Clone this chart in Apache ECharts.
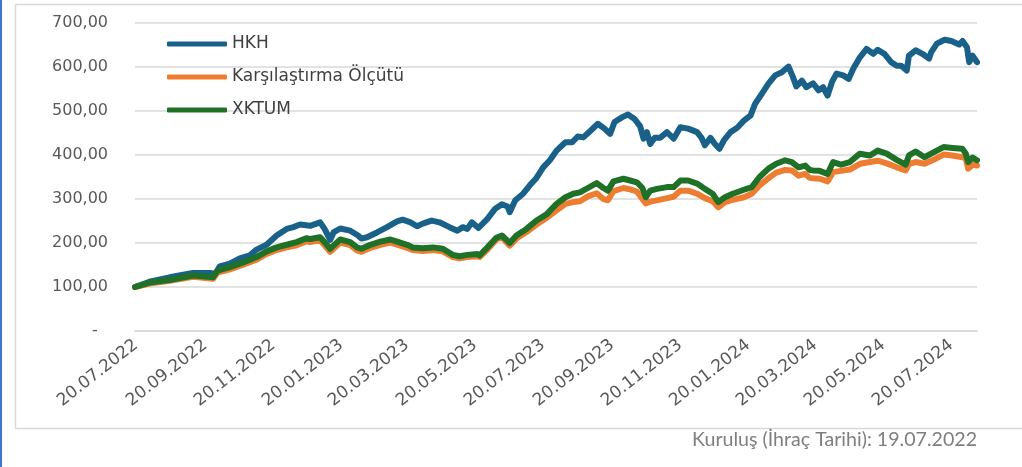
<!DOCTYPE html>
<html>
<head>
<meta charset="utf-8">
<script src="https://cdn.jsdelivr.net/npm/echarts@6/dist/echarts.min.js"></script>
<style>
  html, body { margin: 0; padding: 0; background: #fff; }
  #chart { width: 1022px; height: 467px; }
</style>
</head>
<body>
<div id="chart"></div>
<script>
// tick dates shown under the x axis
const tickLabels = ['20.07.2022', '20.09.2022', '20.11.2022', '20.01.2023', '20.03.2023', '20.05.2023',
  '20.07.2023', '20.09.2023', '20.11.2023', '20.01.2024', '20.03.2024', '20.05.2024', '20.07.2024']

const seriesNames = ['HKH', 'Karşılaştırma Ölçütü', 'XKTUM']

const hkh = [
  ['2022-07-19', 100], ['2022-08-01', 112], ['2022-08-19', 122], ['2022-09-09', 132], ['2022-09-24', 132],
  ['2022-09-29', 130], ['2022-10-03', 147], ['2022-10-12', 153], ['2022-10-21', 165], ['2022-10-30', 172],
  ['2022-11-05', 185], ['2022-11-14', 196], ['2022-11-23', 217], ['2022-12-02', 232], ['2022-12-08', 236],
  ['2022-12-14', 242], ['2022-12-23', 239], ['2023-01-01', 247], ['2023-01-05', 232], ['2023-01-10', 207],
  ['2023-01-13', 224], ['2023-01-19', 233], ['2023-01-28', 228], ['2023-02-04', 217], ['2023-02-07', 210],
  ['2023-02-12', 213], ['2023-02-21', 224], ['2023-03-02', 236], ['2023-03-11', 249], ['2023-03-16', 253],
  ['2023-03-23', 247], ['2023-03-29', 238], ['2023-04-03', 244], ['2023-04-11', 251], ['2023-04-18', 247],
  ['2023-04-27', 236], ['2023-05-04', 228], ['2023-05-09', 236], ['2023-05-13', 232], ['2023-05-17', 247],
  ['2023-05-23', 234], ['2023-05-31', 255], ['2023-06-07', 278], ['2023-06-13', 288], ['2023-06-18', 283],
  ['2023-06-20', 270], ['2023-06-25', 297], ['2023-07-02', 312], ['2023-07-08', 331], ['2023-07-14', 348],
  ['2023-07-20', 372], ['2023-07-26', 388], ['2023-08-01', 410], ['2023-08-09', 429], ['2023-08-15', 429],
  ['2023-08-20', 442], ['2023-08-25', 440], ['2023-08-31', 454], ['2023-09-07', 471], ['2023-09-13', 460],
  ['2023-09-18', 448], ['2023-09-22', 475], ['2023-09-29', 486], ['2023-10-04', 492], ['2023-10-10', 482],
  ['2023-10-15', 465], ['2023-10-18', 437], ['2023-10-21', 452], ['2023-10-24', 425], ['2023-10-28', 439],
  ['2023-11-02', 439], ['2023-11-08', 452], ['2023-11-14', 437], ['2023-11-20', 463], ['2023-11-27', 460],
  ['2023-12-05', 452], ['2023-12-09', 439], ['2023-12-12', 422], ['2023-12-17', 439], ['2023-12-21', 425],
  ['2023-12-25', 414], ['2023-12-29', 433], ['2024-01-04', 452], ['2024-01-10', 462], ['2024-01-16', 478],
  ['2024-01-22', 490], ['2024-01-26', 516], ['2024-02-01', 539], ['2024-02-07', 562], ['2024-02-13', 581],
  ['2024-02-19', 588], ['2024-02-25', 601], ['2024-02-29', 577], ['2024-03-03', 556], ['2024-03-08', 569],
  ['2024-03-12', 554], ['2024-03-18', 563], ['2024-03-23', 547], ['2024-03-27', 554], ['2024-03-31', 535],
  ['2024-04-04', 566], ['2024-04-08', 585], ['2024-04-14', 581], ['2024-04-19', 573], ['2024-04-23', 596],
  ['2024-04-29', 622], ['2024-05-05', 641], ['2024-05-11', 630], ['2024-05-15', 639], ['2024-05-21', 630],
  ['2024-05-27', 611], ['2024-06-01', 603], ['2024-06-05', 603], ['2024-06-10', 592], ['2024-06-12', 626],
  ['2024-06-18', 638], ['2024-06-24', 630], ['2024-06-30', 619], ['2024-07-02', 634], ['2024-07-07', 653],
  ['2024-07-14', 662], ['2024-07-20', 659], ['2024-07-27', 651], ['2024-07-30', 659], ['2024-08-03', 645],
  ['2024-08-05', 611], ['2024-08-08', 626], ['2024-08-12', 611]
]

const benchmark = [
  ['2022-07-19', 100], ['2022-08-01', 108], ['2022-08-19', 114], ['2022-09-09', 123], ['2022-09-27', 119],
  ['2022-10-01', 133], ['2022-10-12', 140], ['2022-10-24', 151], ['2022-11-05', 162], ['2022-11-14', 175],
  ['2022-11-23', 184], ['2022-12-02', 190], ['2022-12-11', 195], ['2022-12-20', 204], ['2022-12-23', 202],
  ['2023-01-01', 206], ['2023-01-05', 195], ['2023-01-10', 180], ['2023-01-13', 187], ['2023-01-19', 201],
  ['2023-01-28', 195], ['2023-02-03', 183], ['2023-02-07', 180], ['2023-02-15', 189], ['2023-02-24', 196],
  ['2023-03-05', 201], ['2023-03-11', 196], ['2023-03-20', 189], ['2023-03-25', 184], ['2023-04-03', 182],
  ['2023-04-12', 184], ['2023-04-21', 181], ['2023-04-30', 168], ['2023-05-06', 165], ['2023-05-13', 168],
  ['2023-05-22', 170], ['2023-05-24', 168], ['2023-05-31', 185], ['2023-06-08', 208], ['2023-06-13', 213],
  ['2023-06-20', 194], ['2023-06-26', 210], ['2023-07-05', 225], ['2023-07-14', 242], ['2023-07-23', 257],
  ['2023-08-01', 274], ['2023-08-09', 289], ['2023-08-16', 293], ['2023-08-22', 295], ['2023-08-29', 306],
  ['2023-09-06', 313], ['2023-09-12', 300], ['2023-09-16', 297], ['2023-09-21', 318], ['2023-09-30', 325],
  ['2023-10-06', 322], ['2023-10-12', 317], ['2023-10-17', 300], ['2023-10-20', 290], ['2023-10-24', 294],
  ['2023-10-30', 297], ['2023-11-08', 302], ['2023-11-14', 305], ['2023-11-20', 319], ['2023-11-27', 319],
  ['2023-12-05', 312], ['2023-12-12', 302], ['2023-12-19', 295], ['2023-12-24', 281], ['2023-12-30', 293],
  ['2024-01-06', 298], ['2024-01-16', 304], ['2024-01-23', 312], ['2024-01-30', 331], ['2024-02-08', 349],
  ['2024-02-14', 360], ['2024-02-22', 366], ['2024-02-28', 365], ['2024-03-05', 353], ['2024-03-11', 357],
  ['2024-03-15', 348], ['2024-03-18', 347], ['2024-03-24', 346], ['2024-03-31', 340], ['2024-04-05', 361],
  ['2024-04-12', 364], ['2024-04-20', 367], ['2024-04-29', 380], ['2024-05-08', 384], ['2024-05-15', 387],
  ['2024-05-23', 381], ['2024-06-01', 372], ['2024-06-09', 365], ['2024-06-12', 380], ['2024-06-18', 384],
  ['2024-06-26', 380], ['2024-07-04', 389], ['2024-07-13', 401], ['2024-07-21', 399], ['2024-07-30', 395],
  ['2024-08-02', 392], ['2024-08-04', 369], ['2024-08-08', 378], ['2024-08-12', 376]
]

const xktum = [
  ['2022-07-19', 100], ['2022-08-01', 110], ['2022-08-19', 116], ['2022-09-09', 126], ['2022-09-27', 122],
  ['2022-10-01', 137], ['2022-10-12', 145], ['2022-10-24', 156], ['2022-11-05', 168], ['2022-11-14', 181],
  ['2022-11-23', 190], ['2022-12-02', 196], ['2022-12-11', 202], ['2022-12-20', 211], ['2022-12-23', 209],
  ['2023-01-01', 213], ['2023-01-05', 202], ['2023-01-10', 187], ['2023-01-13', 194], ['2023-01-19', 208],
  ['2023-01-28', 202], ['2023-02-03', 190], ['2023-02-07', 187], ['2023-02-15', 196], ['2023-02-24', 203],
  ['2023-03-05', 208], ['2023-03-11', 203], ['2023-03-20', 196], ['2023-03-25', 190], ['2023-04-03', 188],
  ['2023-04-12', 190], ['2023-04-21', 187], ['2023-04-30', 173], ['2023-05-06', 170], ['2023-05-13', 173],
  ['2023-05-22', 175], ['2023-05-24', 172], ['2023-05-31', 190], ['2023-06-08', 212], ['2023-06-13', 217],
  ['2023-06-20', 200], ['2023-06-26', 217], ['2023-07-05', 232], ['2023-07-14', 251], ['2023-07-23', 265],
  ['2023-08-01', 289], ['2023-08-09', 304], ['2023-08-16', 312], ['2023-08-22', 315], ['2023-08-29', 325],
  ['2023-09-06', 336], ['2023-09-12', 325], ['2023-09-16', 319], ['2023-09-21', 340], ['2023-09-30', 346],
  ['2023-10-06', 342], ['2023-10-12', 338], ['2023-10-17', 325], ['2023-10-20', 304], ['2023-10-24', 319],
  ['2023-10-30', 323], ['2023-11-08', 327], ['2023-11-14', 327], ['2023-11-20', 342], ['2023-11-27', 342],
  ['2023-12-05', 335], ['2023-12-12', 323], ['2023-12-19', 312], ['2023-12-24', 293], ['2023-12-30', 304],
  ['2024-01-06', 312], ['2024-01-16', 321], ['2024-01-23', 327], ['2024-01-30', 350], ['2024-02-07', 369],
  ['2024-02-14', 380], ['2024-02-22', 388], ['2024-02-28', 384], ['2024-03-05', 372], ['2024-03-11', 376],
  ['2024-03-15', 366], ['2024-03-18', 365], ['2024-03-24', 364], ['2024-03-31', 357], ['2024-04-05', 384],
  ['2024-04-12', 378], ['2024-04-20', 384], ['2024-04-29', 403], ['2024-05-08', 399], ['2024-05-15', 410],
  ['2024-05-23', 403], ['2024-06-01', 389], ['2024-06-09', 378], ['2024-06-12', 399], ['2024-06-18', 408],
  ['2024-06-26', 395], ['2024-07-04', 406], ['2024-07-13', 418], ['2024-07-21', 416], ['2024-07-30', 414],
  ['2024-08-02', 403], ['2024-08-04', 384], ['2024-08-08', 394], ['2024-08-12', 388]
]

const colors = ['#1a6189', '#ed7d31', '#1e7127']

// dd.mm.yyyy -> timestamp
function trDate(s) {
  const p = s.split('.')
  return new Date(+p[2], +p[1] - 1, +p[0]).getTime()
}
// yyyy-mm-dd -> timestamp
function isoDate(s) {
  const p = s.split('-')
  return new Date(+p[0], +p[1] - 1, +p[2]).getTime()
}
function pad(n) {
  return n < 10 ? '0' + n : '' + n
}
function toPoints(list) {
  return list.map(d => [isoDate(d[0]), d[1]])
}

const myChart = echarts.init(document.getElementById('chart'))

let option = {
  animation: false,
  backgroundColor: '#fff',
  color: colors,
  grid: {
    left: 135,
    right: 45,
    top: 23,
    bottom: 136
  },
  legend: {
    orient: 'vertical',
    left: 162,
    top: 30,
    icon: 'roundRect',
    itemWidth: 60,
    itemHeight: 5,
    itemGap: 15,
    data: seriesNames,
    textStyle: {
      fontFamily: 'DejaVu Sans',
      fontSize: 17,
      lineHeight: 18,
      color: '#404040'
    }
  },
  xAxis: {
    type: 'value',
    min: isoDate('2022-07-19'),
    max: isoDate('2024-08-12'),
    splitLine: {show: false},
    axisTick: {show: false},
    axisLine: {show: true, lineStyle: {color: '#d9d9d9', width: 1.5}},
    axisLabel: {
      customValues: tickLabels.map(trDate),
      rotate: 38,
      margin: 12,
      hideOverlap: false,
      fontFamily: 'DejaVu Sans',
      fontSize: 17,
      color: '#595959',
      formatter: function (v) {
        const d = new Date(v)
        return pad(d.getDate()) + '.' + pad(d.getMonth() + 1) + '.' + d.getFullYear()
      }
    }
  },
  yAxis: {
    type: 'value',
    min: 0,
    max: 700,
    interval: 100,
    axisLine: {show: false},
    axisTick: {show: false},
    splitLine: {lineStyle: {color: '#d9d9d9', width: 1.5}},
    axisLabel: {
      margin: 27,
      fontFamily: 'DejaVu Sans',
      fontSize: 16,
      color: '#595959',
      formatter: function (v) {
        if (v === 0) return '-  '
        return v.toFixed(2).replace('.', ',')
      }
    }
  },
  series: [
    {name: seriesNames[0], type: 'line', data: toPoints(hkh)},
    {name: seriesNames[1], type: 'line', data: toPoints(benchmark)},
    {name: seriesNames[2], type: 'line', data: toPoints(xktum)}
  ].map(s => Object.assign(s, {
    showSymbol: false,
    symbol: 'none',
    lineStyle: {width: 6, cap: 'round', join: 'round'}
  })),
  graphic: [
    {
      type: 'rect',
      left: 13,
      top: 2,
      shape: {width: 1030, height: 424},
      style: {fill: 'none', stroke: '#d9d9d9', lineWidth: 1.5},
      silent: true
    },
    {
      type: 'rect',
      left: 0,
      top: 0,
      shape: {width: 2, height: 467},
      style: {fill: '#4472c4'},
      silent: true
    },
    {
      type: 'text',
      right: 45,
      top: 430,
      style: {
        text: 'Kuruluş (İhraç Tarihi): 19.07.2022',
        fontFamily: 'Lato',
        fontSize: 19.6,
        fill: '#7f7f7f'
      }
    }
  ]
}

myChart.setOption(option)
</script>
</body>
</html>
